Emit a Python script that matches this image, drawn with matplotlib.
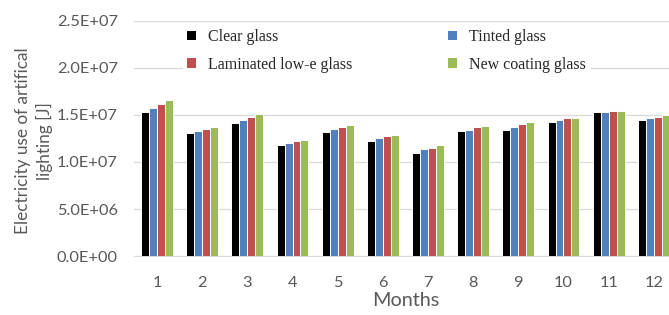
import matplotlib
matplotlib.use("Agg")
import matplotlib.pyplot as plt
from matplotlib.patches import Patch
import numpy as np

months = ["1", "2", "3", "4", "5", "6", "7", "8", "9", "10", "11", "12"]
series_names = ["Clear glass", "Tinted glass", "Laminated low-e glass", "New coating glass"]
clear = [15.33, 13.04, 14.17, 11.80, 13.15, 12.25, 10.98, 13.25, 13.42, 14.27, 15.27, 14.45]
tinted = [15.76, 13.32, 14.45, 11.98, 13.50, 12.51, 11.34, 13.42, 13.71, 14.45, 15.33, 14.63]
laminated = [16.12, 13.53, 14.74, 12.22, 13.74, 12.72, 11.48, 13.71, 14.03, 14.63, 15.44, 14.80]
new_coating = [16.58, 13.74, 15.06, 12.33, 13.92, 12.83, 11.76, 13.82, 14.24, 14.63, 15.44, 14.95]
yticks = [0, 5e6, 1e7, 1.5e7, 2e7, 2.5e7]
ytick_labels = ["0.0E+00", "5.0E+06", "1.0E+07", "1.5E+07", "2.0E+07", "2.5E+07"]

colors = ["#000000", "#4F81BD", "#C0504D", "#9BBB59"]
data = [clear, tinted, laminated, new_coating]

fig = plt.figure(figsize=(6.69, 3.15), dpi=100)
ax = fig.add_axes([0.201, 0.187, 0.810, 0.747])

x = np.arange(len(months))
w = 0.176
for i, (vals, c) in enumerate(zip(data, colors)):
    ax.bar(x + (i - 1.5) * w, np.array(vals) * 1e6, width=w, color=c,
           edgecolor="white", linewidth=0.7, zorder=3)

ax.set_xlim(-0.5, len(months) - 0.5)
ax.set_ylim(0, 2.5e7)
ax.set_yticks(yticks)
ax.set_yticklabels(ytick_labels)
ax.set_xticks(x)
ax.set_xticklabels(months)
ax.grid(axis="y", color="#D9D9D9", linewidth=0.9, zorder=0)
for s in ["top", "right", "left"]:
    ax.spines[s].set_visible(False)
ax.spines["bottom"].set_color("#D9D9D9")
ax.tick_params(axis="both", length=0, labelsize=11.8, labelcolor="#595959")
ax.tick_params(axis="y", pad=12)
ax.tick_params(axis="x", pad=14)
for lab in ax.get_xticklabels() + ax.get_yticklabels():
    lab.set_fontfamily("Lato")

ax.set_xlabel("Months", fontsize=14.3, color="#595959", fontfamily="Lato", labelpad=2)
ax.set_ylabel("Electricity use of artifical\nlighting [J]", fontsize=12.4, color="#595959",
              fontfamily="Lato", linespacing=1.4)
ax.yaxis.set_label_coords(-0.150, 0.489)

handles = [Patch(facecolor=c, edgecolor="none") for c in colors]
order = [0, 2, 1, 3]
leg = ax.legend([handles[i] for i in order], [series_names[i] for i in order],
                ncol=2, loc="upper left", bbox_to_anchor=(0.074, 1.018),
                prop={"family": "Liberation Serif", "size": 11.5},
                frameon=True, facecolor="white", edgecolor="none", framealpha=1,
                handlelength=0.55, handleheight=0.55, handletextpad=0.75,
                columnspacing=6.0, labelspacing=0.72, borderpad=0.3, fancybox=False)
leg.set_zorder(5)
for t in leg.get_texts():
    t.set_color("#262626")

fig.savefig("out.png", dpi=100)
